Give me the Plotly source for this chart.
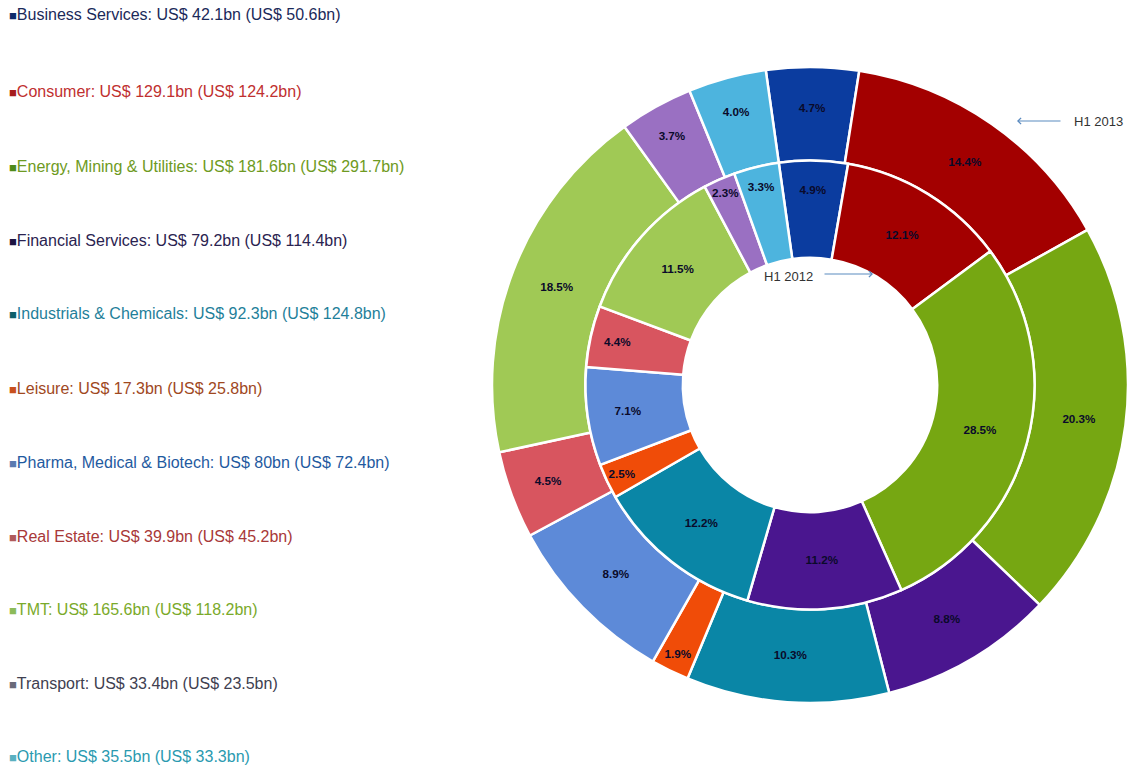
import plotly.graph_objects as go

# ---- data ----
sectors = ["Business Services", "Consumer", "Energy, Mining & Utilities", "Financial Services",
           "Industrials & Chemicals", "Leisure", "Pharma, Medical & Biotech", "Real Estate",
           "TMT", "Transport", "Other"]
h1_2013 = [42.1, 129.1, 181.6, 79.2, 92.3, 17.3, 80, 39.9, 165.6, 33.4, 35.5]
h1_2012 = [50.6, 124.2, 291.7, 114.4, 124.8, 25.8, 72.4, 45.2, 118.2, 23.5, 33.3]

slice_colors = ["#0B3C9F", "#A30000", "#76A712", "#4A168F", "#0A86A6", "#F04C08",
                "#5D8AD8", "#D8555F", "#A0C955", "#9A70C2", "#4DB4DE"]
marker_colors = ["#0E2A6A", "#A51C1C", "#4E8A1A", "#1C1440", "#0E5F6A", "#C8501E",
                 "#5A7AB0", "#B05A5A", "#8CBB5A", "#6A6A7A", "#5AB0C0"]
text_colors = ["#1B2A5A", "#C0302F", "#6E9A22", "#2A2350", "#1F7F9A", "#A0481E",
               "#1F5AA0", "#A83838", "#7AAA2A", "#404050", "#2A9AB0"]

W, H = 1129, 769
cx, cy, R = 810, 385, 318
ring_ratio = 0.706
hole_ratio = 0.40
r2 = R * ring_ratio


def dom(r):
    return dict(x=[max(0, (cx - r) / W), min(1, (cx + r) / W)],
                y=[max(0, 1 - (cy + r) / H), min(1, 1 - (cy - r) / H)])


txtfont = dict(family="Liberation Sans, Arial, sans-serif", size=12, color="#0A0A2A")

fig = go.Figure()
fig.add_trace(go.Pie(
    labels=sectors, values=h1_2013, sort=False, direction="clockwise", rotation=-8,
    hole=ring_ratio, domain=dom(R),
    marker=dict(colors=slice_colors, line=dict(color="white", width=2.5)),
    texttemplate="<b>%{percent:.1%}</b>", textposition="inside",
    insidetextorientation="horizontal", textfont=txtfont, showlegend=False,
    name="H1 2013"))
fig.add_trace(go.Pie(
    labels=sectors, values=h1_2012, sort=False, direction="clockwise", rotation=-8,
    hole=hole_ratio / ring_ratio, domain=dom(r2),
    marker=dict(colors=slice_colors, line=dict(color="white", width=2.5)),
    texttemplate="<b>%{percent:.1%}</b>", textposition="inside",
    insidetextorientation="horizontal", textfont=txtfont, showlegend=False,
    name="H1 2012"))

annotations = []
leg_y = [14, 92, 166, 240, 314, 388, 462, 536, 609, 683, 756]
for i, s in enumerate(sectors):
    annotations.append(dict(
        x=8 / W, y=1 - leg_y[i] / H, xref="paper", yref="paper", xanchor="left", yanchor="middle",
        showarrow=False, borderpad=0,
        text=(f"<span style='color:{marker_colors[i]};font-size:13px'>■</span>"
              f"<span style='color:{text_colors[i]}'>{s}: US$ {h1_2013[i]:g}bn (US$ {h1_2012[i]:g}bn)</span>"),
        font=dict(family="Liberation Sans, Arial, sans-serif", size=16)))

lab_font = dict(family="Liberation Sans, Arial, sans-serif", size=13, color="#333333")
# H1 2013 label + arrow
annotations.append(dict(x=1124 / W, y=1 - 121 / H, xref="paper", yref="paper", xanchor="right",
                        yanchor="middle", showarrow=False, text="H1 2013", font=lab_font, borderpad=0))
annotations.append(dict(x=1017 / W, y=1 - 121 / H, xref="paper", yref="paper", showarrow=True,
                        text="", ax=45, ay=0, arrowhead=4, arrowsize=1, arrowwidth=1.2,
                        arrowcolor="#5B8BC0"))
# H1 2012 label + arrow
annotations.append(dict(x=763 / W, y=1 - 276 / H, xref="paper", yref="paper", xanchor="left",
                        yanchor="middle", showarrow=False, text="H1 2012", font=lab_font, borderpad=0))
annotations.append(dict(x=873 / W, y=1 - 274 / H, xref="paper", yref="paper", showarrow=True,
                        text="", ax=-50, ay=0, arrowhead=4, arrowsize=1, arrowwidth=1.2,
                        arrowcolor="#5B8BC0"))

fig.update_layout(width=W, height=H, margin=dict(l=0, r=0, t=0, b=0),
                  paper_bgcolor="white", plot_bgcolor="white",
                  annotations=annotations, uniformtext=dict(minsize=8, mode="show"))
fig.write_html("out.html", config={"displayModeBar": False},
               post_script="document.body.style.margin='0';document.body.style.overflow='hidden';")
